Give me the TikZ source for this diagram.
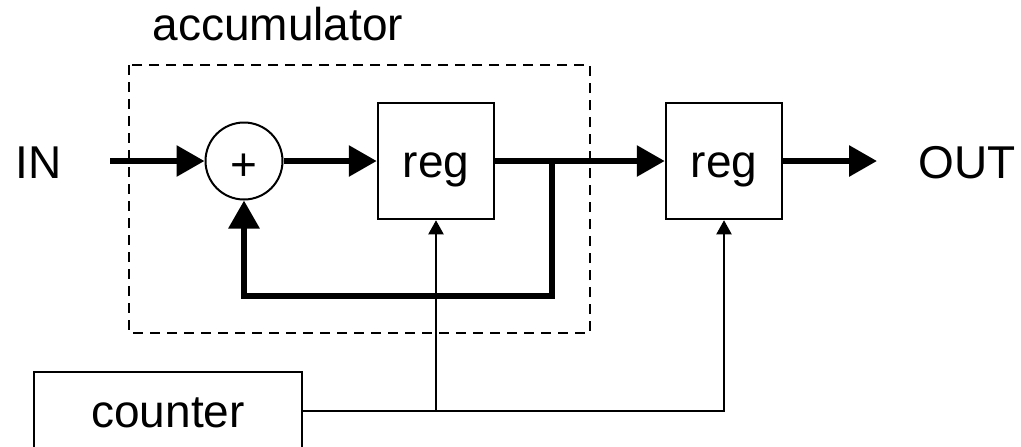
\documentclass[tikz,border=0pt]{standalone}
\usepackage{fontspec}
\setmainfont{Liberation Sans}
\usetikzlibrary{arrows.meta,positioning}

\begin{document}
\begin{tikzpicture}[
    x=0.5pt, y=-0.5pt,
    font=\fontsize{23}{27}\selectfont,
    block/.style={draw, line width=1.25pt, minimum width=58pt, minimum height=58pt, text height=16.5pt, text depth=0pt, inner sep=0pt},
    adder/.style={draw, circle, line width=1pt, minimum size=38.5pt, inner sep=0pt, text height=19pt, text depth=0pt},
    sig/.style={-{Triangle[length=14pt,width=15pt]}, line width=3pt},
    clk/.style={-{Triangle[length=7pt,width=7.5pt]}, line width=1pt}
]
\useasboundingbox (0,0) rectangle (1021,446);
\draw[dash pattern=on 5pt off 3.5pt, line width=0.9pt] (129,65) rectangle (590,333);
\node[anchor=base] (acclabel) at (278,40) {accumulator};
\node[anchor=base] (in) at (39,178) {IN};
\node[anchor=base] (out) at (967,178) {OUT};
\coordinate (inpt) at (110,161);
\coordinate (outpt) at (877,161);
\node[adder] (sum) at (244,161) {+};
\node[block] (reg1) at (436,161) {reg};
\node[block] (reg2) at (724,161) {reg};
\node[draw, line width=1pt, minimum width=134pt, minimum height=39pt, inner sep=0pt, text height=16.5pt, text depth=0pt] (counter) at (168,411) {counter};
\coordinate (tap) at (552,161);
\draw[sig] (inpt) -- (sum);
\draw[sig] (sum) -- (reg1);
\draw[sig] (reg1) -- (reg2);
\draw[sig] (reg2) -- (outpt);
\draw[sig] (tap) -- ++(0,135) -| (sum.south);
\draw[clk] (counter.east) -| (reg2.south);
\draw[clk] (reg1.south |- counter.east) -- (reg1.south);
\end{tikzpicture}
\end{document}
